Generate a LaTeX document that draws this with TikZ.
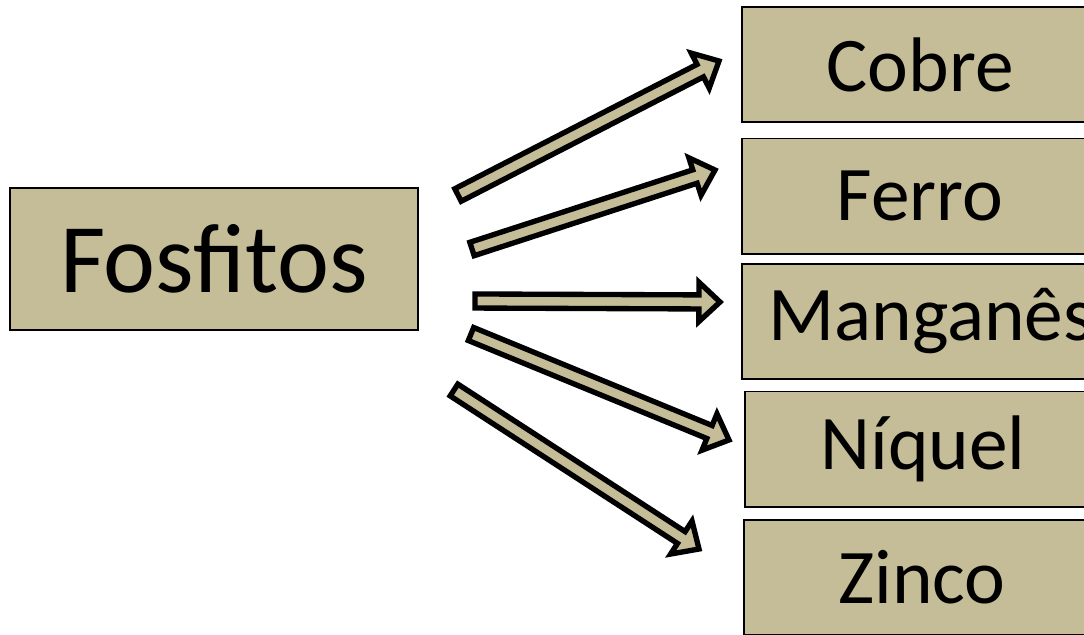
\documentclass[tikz,border=0pt]{standalone}
\usepackage{fontspec}
\setmainfont{Carlito}
\usetikzlibrary{calc,positioning}

\definecolor{khaki}{HTML}{C4BD97}

\tikzset{
  box/.style={draw=black, line width=1.4pt, fill=khaki, inner sep=0pt,
    minimum width=8.9cm, minimum height=2.875cm, font=\fontsize{55}{66}\selectfont},
  bigbox/.style={box, minimum width=10.2cm, minimum height=3.55cm,
    font=\fontsize{70}{84}\selectfont},
  fatarrow/.style={draw=black, line width=3.8pt, line join=miter, fill=khaki}
}

% block arrow from tail #1 to tip #2
\newcommand\blockarrow[2]{%
  \draw[fatarrow] let \p1=(#1), \p2=(#2), \p3=($(#2)!15pt!(#1)$) in
    ($(\p1)!5pt!90:(\p2)$) -- ($(\p3)!5pt!90:(\p2)$) -- ($(\p3)!14pt!90:(\p2)$)
    -- (\p2) -- ($(\p3)!14pt!-90:(\p2)$) -- ($(\p3)!5pt!-90:(\p2)$)
    -- ($(\p1)!5pt!-90:(\p2)$) -- cycle;}

\begin{document}
\begin{tikzpicture}[x=0.025cm, y=0.025cm]
  \useasboundingbox (0,0) rectangle (1084,-634);
  \clip (0,0) rectangle (1084,-634);

  \node[bigbox] (fosfitos) at (214,-259) {Fosfitos};

  \node[box] (cobre) at (920,-64.5) {Cobre};
  \node[box] (ferro) at (920,-196) {Ferro};
  \node[box, minimum width=9.45cm] (manganes) at (931,-321.5) {Manganês};
  \node[box] (niquel) at (923,-449) {Níquel};
  \node[box] (zinco) at (922,-577.5) {Zinco};

  % tails and tips of the arrows
  \coordinate (t1) at (458,-195);  \coordinate (h1) at (719,-61);
  \coordinate (t2) at (472,-249);  \coordinate (h2) at (715,-170);
  \coordinate (t3) at (475,-301);  \coordinate (h3) at (720,-302);
  \coordinate (t4) at (471,-334);  \coordinate (h4) at (729,-440);
  \coordinate (t5) at (454,-390);  \coordinate (h5) at (699,-549);

  \foreach \i in {1,...,5}
    \blockarrow{t\i}{h\i};
\end{tikzpicture}
\end{document}
